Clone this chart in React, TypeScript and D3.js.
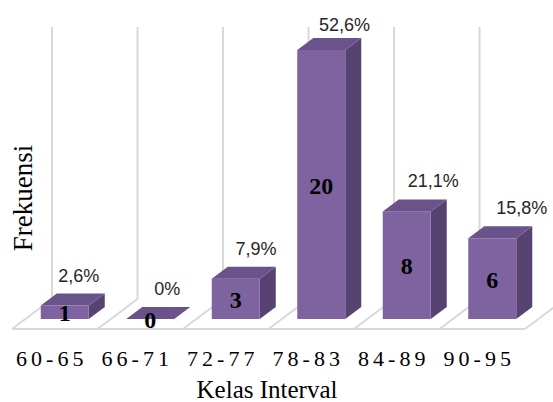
import React from "react";
import * as d3 from "d3";

const categories = ["60-65", "66-71", "72-77", "78-83", "84-89", "90-95"];
const values = [1, 0, 3, 20, 8, 6];
const percentLabels = ["2,6%", "0%", "7,9%", "52,6%", "21,1%", "15,8%"];
const xTitle = "Kelas Interval";
const yTitle = "Frekuensi";

const W = 553;
const H = 402;

export default function App() {
  const floorY = 329;
  const depthX = 40;
  const depthY = 30;
  const x = d3
    .scaleBand<string>()
    .domain(categories)
    .range([12, 12 + 85.5 * categories.length])
    .paddingInner(0)
    .paddingOuter(0);
  const y = d3.scaleLinear().domain([0, 20]).range([319, 50]);
  const band = x.bandwidth();
  const barW = 48;
  const barDx = 16;
  const barDy = 12;
  const wallTop = 27;

  const front = "#7f63a1";
  const top = "#6a538b";
  const side = "#564372";
  const grid = "#d9d9d9";

  const boundaries = d3.range(categories.length + 1).map((i) => 12 + band * i);
  const tickLS = 4;

  return (
    <svg width={W} height={H} style={{ position: "absolute", left: 0, top: 0, background: "#fff" }}>
      {boundaries.map((bx, i) => (
        <line
          key={"g" + i}
          x1={bx + depthX}
          x2={bx + depthX}
          y1={wallTop}
          y2={floorY - depthY}
          stroke={grid}
          strokeWidth={2}
        />
      ))}
      {boundaries.map((bx, i) => (
        <line
          key={"f" + i}
          x1={bx}
          y1={floorY}
          x2={bx + depthX}
          y2={floorY - depthY}
          stroke={grid}
          strokeWidth={2}
        />
      ))}
      <line x1={boundaries[0]} x2={boundaries[boundaries.length - 1]} y1={floorY} y2={floorY} stroke={grid} strokeWidth={2} />

      {categories.map((c, i) => {
        const cx = (x(c) as number) + band / 2 + 10;
        const x0 = cx - barW / 2;
        const x1 = cx + barW / 2;
        const y0 = y(0);
        const yt = y(values[i]);
        const topPts = `${x0},${yt} ${x1},${yt} ${x1 + barDx},${yt - barDy} ${x0 + barDx},${yt - barDy}`;
        const sidePts = `${x1},${yt} ${x1 + barDx},${yt - barDy} ${x1 + barDx},${y0 - barDy} ${x1},${y0}`;
        return (
          <g key={c}>
            {values[i] > 0 && <polygon points={sidePts} fill={side} />}
            {values[i] > 0 && <rect x={x0} y={yt} width={barW} height={y0 - yt} fill={front} />}
            <polygon points={topPts} fill={top} />
          </g>
        );
      })}

      {categories.map((c, i) => {
        const cx = (x(c) as number) + band / 2 + 10;
        const mid = (y(0) + y(values[i])) / 2;
        return (
          <text
            key={"v" + c}
            x={cx}
            y={mid + 9}
            textAnchor="middle"
            fontFamily="'Liberation Serif', 'Times New Roman', serif"
            fontWeight="bold"
            fontSize={24}
            fill="#000"
          >
            {values[i]}
          </text>
        );
      })}

      {categories.map((c, i) => {
        const cx = (x(c) as number) + band / 2 + 10;
        const lx = cx + 14 + 3.1 * i;
        const ly = Math.max(y(values[i]) - barDy - 12, 31);
        return (
          <text
            key={"p" + c}
            x={lx}
            y={ly}
            textAnchor="middle"
            fontFamily="'Liberation Sans', Arial, sans-serif"
            fontSize={18}
            fill="#262626"
          >
            {percentLabels[i]}
          </text>
        );
      })}

      {categories.map((c) => {
        const cx = (x(c) as number) + band / 2 - 5;
        return (
          <text
            key={"t" + c}
            x={cx + tickLS / 2}
            y={366}
            textAnchor="middle"
            fontFamily="'Liberation Serif', 'Times New Roman', serif"
            fontSize={22}
            letterSpacing={tickLS}
            fill="#000"
          >
            {c}
          </text>
        );
      })}

      <text
        x={267}
        y={398}
        textAnchor="middle"
        fontFamily="'Liberation Serif', 'Times New Roman', serif"
        fontSize={25}
        fill="#000"
      >
        {xTitle}
      </text>
      <text
        transform={`translate(32,198) rotate(-90)`}
        textAnchor="middle"
        fontFamily="'Liberation Serif', 'Times New Roman', serif"
        fontSize={27}
        fill="#000"
      >
        {yTitle}
      </text>
    </svg>
  );
}
